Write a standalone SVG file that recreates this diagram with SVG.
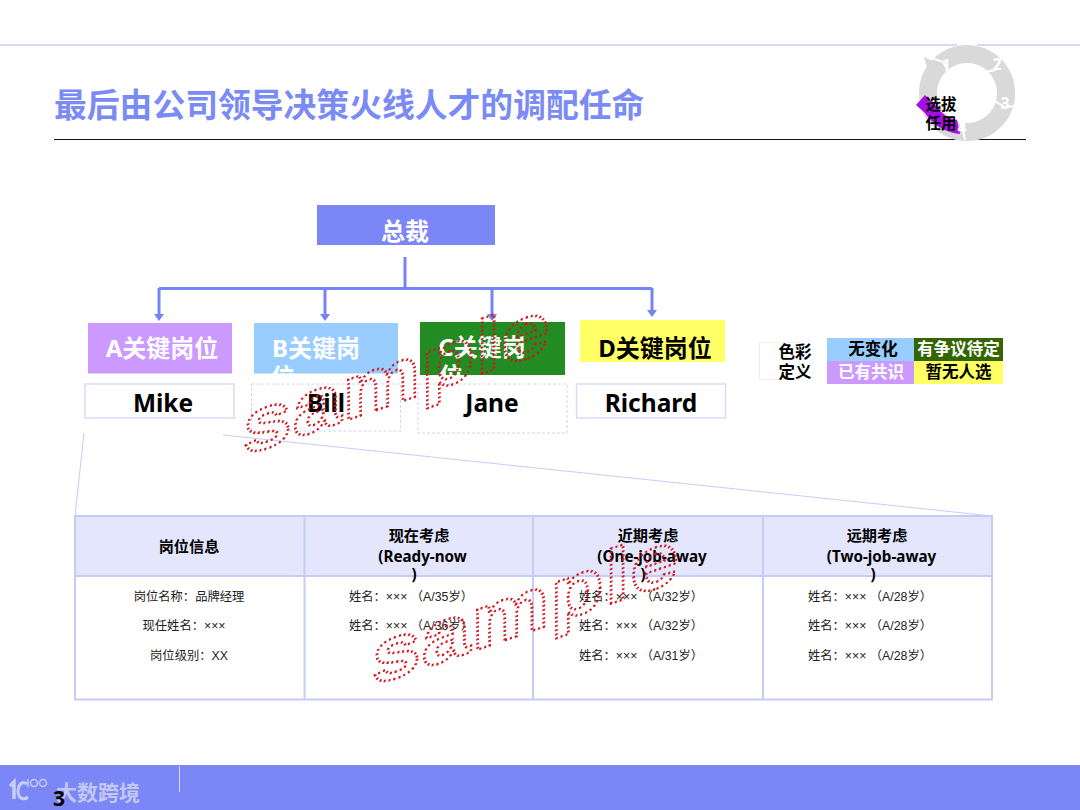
<svg xmlns="http://www.w3.org/2000/svg" width="1080" height="810" viewBox="0 0 1080 810">
<style>
text{font-family:"Noto Sans","Noto Sans CJK SC",sans-serif;text-anchor:middle}
.b{font-weight:700}
.h{font-size:24px;font-weight:700}
.n{font-size:24.500px;font-weight:700;fill:#000}
.w{fill:#fff}
.l{font-size:16.500px;font-weight:700}
.th{font-size:15.200px;font-weight:700;fill:#000}
.td{font-family:"Liberation Sans","Noto Sans CJK SC",sans-serif;font-size:12.300px;fill:#222}
.grid{stroke:#c6cbf8;stroke-width:2;fill:none}
.conn{stroke:#7583f4;stroke-width:3;fill:none}
.wm{font-family:"Liberation Sans",sans-serif;font-size:76px;font-weight:700;fill:none;stroke:#d2161e;stroke-width:2.400;stroke-dasharray:1.800 2.400;text-anchor:start;letter-spacing:1px}
.num{font-size:16px;font-weight:700;fill:#fff}
.gap{fill:none;stroke:#fff;stroke-width:2}
</style>
<rect width="1080" height="810" fill="#fff"/>
<path d="M0 45H1080" stroke="#c9cdf8" stroke-width="1.500"/>
<path d="M54 139.500H1026" stroke="#111" stroke-width="1"/>
<text class="b" x="54" y="117" style="font-size:32.800px;fill:#7b8bf5;text-anchor:start">最后由公司领导决策火线人才的调配任命</text>
<g id="cycle-icon">
<path d="M957 45H977M962 139.500H968" stroke="#fff" stroke-width="3"/>
<circle cx="967" cy="93" r="39" fill="none" stroke="#d9d9d9" stroke-width="18"/>
<path d="M924 57L935 62L929 75" fill="#d9d9d9"/>
<path class="gap" d="M926 56L943 62L952 78M1003 54L995 70L985 72M993 100L1005 107L1017 106M958 118L963 130L965 140"/>
<path d="M916 105L925 95L930 100L937 107A30 30 0 0 0 957 120L960 134A48 48 0 0 1 925 113Z" fill="#a60ee8"/>
<text class="num" x="946" y="71">1</text><text class="num" x="997" y="70">2</text><text class="num" x="1005" y="109">3</text><text class="num" x="962" y="133">4</text>
<text class="b" x="941" y="110" style="font-size:15.500px;fill:#000">选拔</text>
<text class="b" x="941" y="129" style="font-size:15.500px;fill:#000">任用</text>
</g>
<g id="connectors">
<path class="conn" d="M405 257V287"/>
<path class="conn" d="M159 288.500H652"/>
<path class="conn" d="M159 288V315M325 288V315M492 288V315M652 288V311"/>
<path d="M154 314H164L159 321ZM320 314H330L325 321ZM487 314H497L492 321ZM647 310H657L652 317Z" fill="#7583f4"/>
<path d="M84 433L75 516M223 435L992 516" stroke="#c6cbf8" stroke-width="1" fill="none"/>
</g>
<g id="ceo"><rect x="317" y="205" width="178" height="40" fill="#7b86f7"/><text class="h w" x="405" y="240">总裁</text></g>
<g id="a"><rect x="88" y="323" width="144" height="50.500" fill="#cc99ff"/><text class="h w" x="162" y="357">A关键岗位</text></g>
<g id="b"><rect x="254" y="323" width="144" height="50.500" fill="#99ccff"/><text class="h w" x="316" y="357">B关键岗</text><text class="h w" x="283" y="386">位</text></g>
<g id="c"><rect x="420" y="322" width="145" height="53" fill="#228b22"/><text class="h w" x="482" y="356">C关键岗</text><text class="h w" x="451" y="385">位</text></g>
<g id="d"><rect x="580" y="320" width="145" height="42" fill="#ffff66"/><text class="h" fill="#000" x="655" y="357">D关键岗位</text></g>
<g id="mike"><rect x="85" y="384" width="149" height="34" fill="#fff" stroke="#d9dcf8" stroke-width="1.500"/><text class="n" x="163" y="412">Mike</text></g>
<g id="bill"><rect x="251.500" y="384" width="149" height="47" fill="#fff" stroke="#cfd3f8" stroke-dasharray="3 2"/><text class="n" x="326" y="412">Bill</text></g>
<g id="jane"><rect x="418" y="384" width="149" height="49" fill="#fff" stroke="#cfd3f8" stroke-dasharray="3 2"/><text class="n" x="492" y="412">Jane</text></g>
<g id="richard"><rect x="576.500" y="384" width="149" height="34" fill="#fff" stroke="#d9dcf8" stroke-width="1.500"/><text class="n" x="651" y="412">Richard</text></g>
<g id="legend">
<rect x="759.500" y="342.500" width="40" height="37" fill="#fff" stroke="#eee"/>
<text class="l" x="795" y="358" fill="#000">色彩</text><text class="l" x="795" y="378" fill="#000">定义</text>
<rect x="827" y="338" width="87" height="23" fill="#99ccff"/><text class="l" x="873" y="355" fill="#000">无变化</text>
<rect x="914" y="338" width="89" height="23" fill="#336600"/><text class="l w" x="958.500" y="355">有争议待定</text>
<rect x="827" y="361" width="87" height="23" fill="#cc99ff"/><text class="l w" x="871" y="378">已有共识</text>
<rect x="914" y="361" width="89" height="23" fill="#ffff66"/><text class="l" x="958.500" y="378" fill="#000">暂无人选</text>
</g>
<g id="table">
<rect x="75" y="516" width="917" height="60" fill="#e3e6fc"/>
<rect class="grid" x="75" y="516" width="917" height="183.500"/>
<path class="grid" d="M75 576H992M304.500 516V699.500M533 516V699.500M763 516V699.500"/>
<text class="th" x="189" y="552">岗位信息</text>
<text class="th" x="419" y="541">现在考虑</text><text class="th" x="422.500" y="562">(Ready-now</text><text class="th" x="414" y="580">)</text>
<text class="th" x="648" y="541">近期考虑</text><text class="th" x="652" y="562">(One-job-away</text><text class="th" x="643" y="580">)</text>
<text class="th" x="877" y="541">远期考虑</text><text class="th" x="881.500" y="562">(Two-job-away</text><text class="th" x="873" y="580">)</text>
<text class="td" x="189" y="601">岗位名称：品牌经理</text><text class="td" x="184" y="630">现任姓名：×××</text><text class="td" x="189" y="660">岗位级别：XX</text>
<text class="td" x="411" y="601">姓名：××× （A/35岁）</text><text class="td" x="411" y="630">姓名：××× （A/36岁）</text>
<text class="td" x="641" y="601">姓名：××× （A/32岁）</text><text class="td" x="641" y="630">姓名：××× （A/32岁）</text><text class="td" x="641" y="660">姓名：××× （A/31岁）</text>
<text class="td" x="870" y="601">姓名：××× （A/28岁）</text><text class="td" x="870" y="630">姓名：××× （A/28岁）</text><text class="td" x="870" y="660">姓名：××× （A/28岁）</text>
</g>
<text class="wm" transform="translate(243 456) skewY(-19) scale(1.150 1)">sample</text>
<text class="wm" transform="translate(372 686) skewY(-19) scale(1.150 1)">sample</text>
<g id="footer">
<rect y="765" width="1080" height="45" fill="#7b86f7"/>
<path d="M179.500 766V792" stroke="#d5d9fb" stroke-width="1"/>
<g fill="none" stroke="#c8cdf5">
<path d="M10 786L14 782V799" stroke-width="3.500"/><path d="M27 784C21 780 18 786 18 791C18 798 23 801 28 797" stroke-width="3"/>
<path d="M28 779V787" stroke-width="1.500"/><circle cx="34" cy="783" r="3.500" stroke-width="1.500"/><circle cx="43" cy="783" r="3.500" stroke-width="1.500"/>
</g>
<text x="98" y="800" style="font-size:21px;font-weight:700;fill:#c3c8f2">大数跨境</text>
<text x="59" y="806" style="font-size:21px;font-weight:700;fill:#000">3</text>
</g>
</svg>
